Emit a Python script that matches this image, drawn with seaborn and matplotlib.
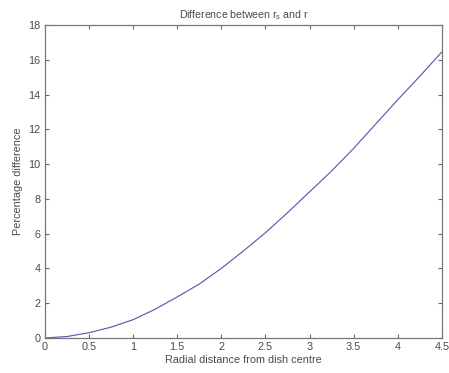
import matplotlib
matplotlib.use("Agg")
import matplotlib.pyplot as plt
import seaborn as sns
import pandas as pd

radial_distance = [0, 0.25, 0.5, 0.75, 1.0, 1.25, 1.5, 1.75, 2.0, 2.25, 2.5, 2.75,
                   3.0, 3.25, 3.5, 3.75, 4.0, 4.25, 4.5]
percentage_difference = [0, 0.08, 0.3, 0.62, 1.05, 1.65, 2.36, 3.1, 4.0, 5.0, 6.05,
                         7.2, 8.4, 9.6, 10.9, 12.3, 13.7, 15.05, 16.45]
x_ticks = [0, 0.5, 1, 1.5, 2, 2.5, 3, 3.5, 4, 4.5]
x_tick_labels = ["0", "0.5", "1", "1.5", "2", "2.5", "3", "3.5", "4", "4.5"]
y_ticks = [0, 2, 4, 6, 8, 10, 12, 14, 16, 18]

sns.set_style("ticks")
plt.rcParams['font.family'] = ['Liberation Sans', 'DejaVu Sans']

df = pd.DataFrame({"r": radial_distance, "pd": percentage_difference})

fig = plt.figure(figsize=(4.49, 3.73), dpi=100)
ax = fig.add_axes([0.1, 0.094, 0.884, 0.839])
sns.lineplot(data=df, x="r", y="pd", ax=ax, color="#5a5eaa", linewidth=0.85)

txt = "#4a4a4a"
ax.set_xlim(0, 4.5)
ax.set_ylim(0, 18)
ax.set_xticks(x_ticks)
ax.set_xticklabels(x_tick_labels)
ax.set_yticks(y_ticks)
ax.tick_params(direction="in", top=True, right=True, length=3, width=0.8,
               colors="#666666", labelcolor=txt, labelsize=7.8, pad=3)
for s in ax.spines.values():
    s.set_visible(True)
    s.set_color("#777777")
    s.set_linewidth(0.9)
ax.set_xlabel("Radial distance from dish centre", fontsize=7.8, color=txt, labelpad=2)
ax.set_ylabel("Percentage difference", fontsize=7.8, color=txt, labelpad=4)
ax.set_title(r"Difference between r$_\mathregular{s}$ and r", fontsize=7.6, color=txt, pad=5)

fig.savefig("out.png", dpi=100)
